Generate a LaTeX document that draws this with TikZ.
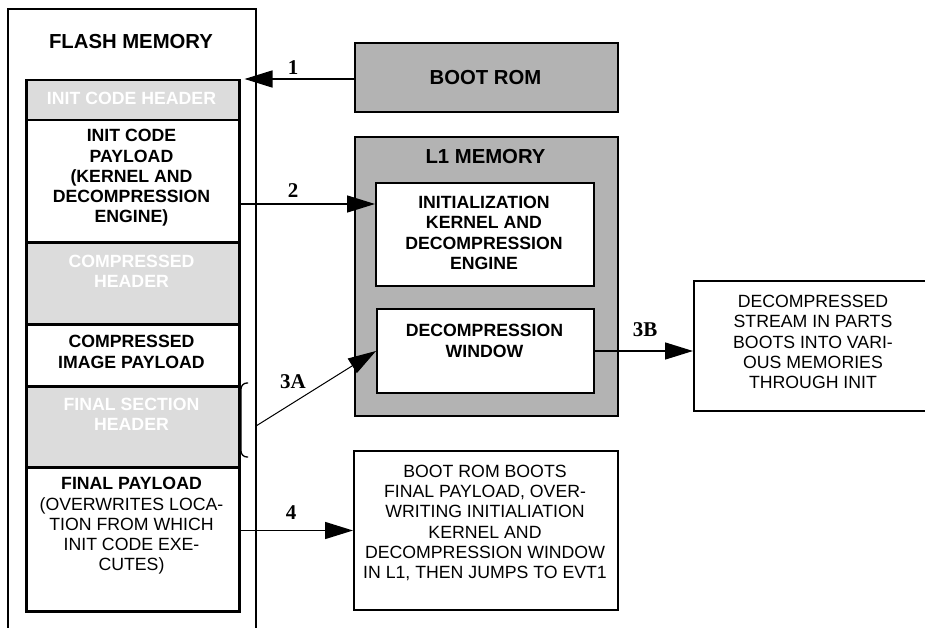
\documentclass[tikz,border=0pt]{standalone}
\usepackage{fontspec}
\setmainfont{Liberation Sans}
\newfontfamily\labfont{Liberation Serif}
\usetikzlibrary{arrows.meta,calc}
\definecolor{hdrgray}{HTML}{DCDCDC}
\definecolor{romgray}{HTML}{B3B3B3}
\begin{document}
\begin{tikzpicture}[x=1pt,y=-1pt,
  sect/.style={draw, line width=2.5pt, inner sep=0pt, anchor=north west},
  bx/.style={draw, line width=2pt, inner sep=0pt, anchor=north west},
  txt/.style={align=center, inner sep=0pt, font=\fontsize{17.7}{20.3}\selectfont},
  btxt/.style={txt, font=\fontsize{17.7}{20.3}\selectfont\bfseries},
  ttl/.style={align=center, inner sep=0pt, font=\fontsize{20.3}{24}\selectfont\bfseries},
  htxt/.style={btxt, text=white},
  lab/.style={inner sep=0pt, font=\fontsize{21}{24}\selectfont\labfont\bfseries},
  arr/.style={line width=1.5pt, -{Triangle[length=28pt,width=17pt]}},
  thinarr/.style={line width=1pt, -{Triangle[length=28pt,width=17pt]}}
]
\clip (0,0) rectangle (925,628);
% flash memory outline (open at the bottom)
\draw[line width=2pt] (8,640) -- (8,9) -- (256,9) -- (256,640);
\node[ttl] (flashT) at (131,42) {FLASH MEMORY};
% stack
\node[sect, fill=hdrgray, minimum width=213pt, minimum height=40pt] (ich) at (25,79) {};
\node[sect, minimum width=213pt, minimum height=122pt] (icp) at (25,119) {};
\node[sect, fill=hdrgray, minimum width=213pt, minimum height=82pt] (ch) at (25,241) {};
\node[sect, minimum width=213pt, minimum height=62pt] (cip) at (25,323) {};
\node[sect, fill=hdrgray, minimum width=213pt, minimum height=81pt] (fsh) at (25,385) {};
\node[sect, minimum width=213pt, minimum height=144pt] (fp) at (25,466) {};
\node[htxt] (ichT) at (131.5,98) {INIT CODE HEADER};
\node[btxt] (icpT) at (131.5,178) {INIT CODE\\PAYLOAD\\(KERNEL AND\\DECOMPRESSION\\ENGINE)};
\node[htxt] (chT) at (131.5,271) {COMPRESSED\\HEADER};
\node[btxt] (cipT) at (131.5,352) {COMPRESSED\\IMAGE PAYLOAD};
\node[htxt] (fshT) at (131.5,414) {FINAL SECTION\\HEADER};
\node[txt] (fpT) at (131.5,526) {\textbf{FINAL PAYLOAD}\\(OVERWRITES LOCA-\\TION FROM WHICH\\INIT CODE EXE-\\CUTES)};
% bracket
\draw[line width=1.3pt, rounded corners=6pt] (248,383) -- (241,383) -- (241,457) -- (248,457);
% boot rom
\node[bx, fill=romgray, minimum width=263pt, minimum height=69pt] (rom) at (354,42) {};
\node[ttl] (romT) at (485.5,78) {BOOT ROM};
% L1 memory
\node[bx, fill=romgray, minimum width=263pt, minimum height=279pt] (l1) at (354,136) {};
\node[ttl] (l1T) at (485.5,157) {L1 MEMORY};
\node[bx, fill=white, minimum width=218pt, minimum height=103pt] (ik) at (375,182) {};
\node[btxt] (ikT) at (484,233) {INITIALIZATION\\KERNEL AND\\DECOMPRESSION\\ENGINE};
\node[bx, fill=white, minimum width=217pt, minimum height=84pt] (dw) at (376,308) {};
\node[btxt] (dwT) at (484.5,341) {DECOMPRESSION\\WINDOW};
% right box
\node[bx, minimum width=245pt, minimum height=130pt] (rb) at (693,280) {};
\node[txt] (rbT) at (813,342) {DECOMPRESSED\\STREAM IN PARTS\\BOOTS INTO VARI-\\OUS MEMORIES\\THROUGH INIT};
% bottom box
\node[bx, minimum width=264pt, minimum height=159pt] (b4) at (353,450) {};
\node[txt] (b4T) at (485,523) {BOOT ROM BOOTS\\FINAL PAYLOAD, OVER-\\WRITING INITIALIATION\\KERNEL AND\\DECOMPRESSION WINDOW\\IN L1, THEN JUMPS TO EVT1};
% connectors
\draw[arr, shorten >=4pt] (rom.west |- ich.north east) -- (ich.north east);
\coordinate (a2) at (238,204);
\draw[arr] (a2) -- (ik.west |- a2);
\coordinate (a3) at (256,426);
\draw[thinarr] (a3) -- (dw.west);
\draw[arr] (dw.east) -- (rb.west |- dw.east);
\draw[arr] (fp.east |- b4.west) -- (b4.west);
% labels
\node[lab] (l1lab) at (293,68) {1};
\node[lab] (l2lab) at (293,191) {2};
\node[lab] (l3alab) at (293,382) {3A};
\node[lab] (l3blab) at (645,330) {3B};
\node[lab] (l4lab) at (291,513) {4};
\end{tikzpicture}
\end{document}
